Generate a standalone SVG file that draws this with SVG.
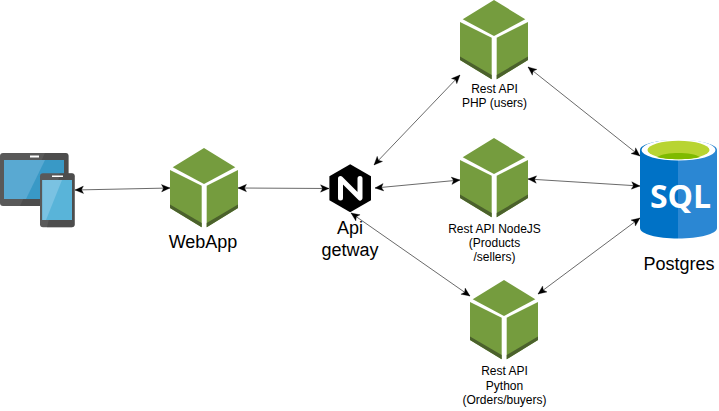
<svg xmlns="http://www.w3.org/2000/svg" xmlns:xlink="http://www.w3.org/1999/xlink" width="719" height="411" viewBox="0 0 719 411">
<style>
text{font-family:"Liberation Sans",Arial,sans-serif;fill:#000;text-anchor:middle}
.lg{font-size:18px}.sm{font-size:12px}
.c{fill:none;stroke:#444;stroke-width:.8;marker-start:url(#a);marker-end:url(#a)}
</style>
<defs>
<marker id="a" viewBox="0 0 10 10" refX="9.5" refY="5" markerWidth="10" markerHeight="10" markerUnits="userSpaceOnUse" orient="auto-start-reverse">
<path d="M1 1.3L9.5 5L1 8.7L3 5Z" fill="#000" stroke="#000" stroke-width=".3"/>
</marker>
<g id="cube">
<path fill="#759c3e" d="M34 0L2.7 19.3L34 36L65.3 19.3Z"/>
<path fill="#759c3e" d="M0 22L31.7 37.7V79.3L0 60Z"/>
<path fill="#4b612c" d="M0 56.5L31.7 75V79.3L0 60Z"/>
<path fill="#759c3e" d="M36.7 37.7L68 22V60L36.7 79.3Z"/>
<path fill="#4b612c" d="M68 56.5L36.7 75V79.3L68 60Z"/>
</g>
</defs>
<g id="connectors">
<path class="c" d="M75 190L170 188"/>
<path class="c" d="M238 188L329 188.5"/>
<path class="c" d="M374 165L460 75"/>
<path class="c" d="M375 188L460 180"/>
<path class="c" d="M351 213L470 296"/>
<path class="c" d="M528 67L640 156"/>
<path class="c" d="M528 179L640 186"/>
<path class="c" d="M538 294L640 218"/>
</g>
<g id="devices">
<rect x="0" y="153" width="68.5" height="53" rx="3" fill="#595959"/>
<path d="M45 153H65.5a3 3 0 0 1 3 3V206H20Z" fill="#3e3e3e" opacity=".45"/>
<rect x="4" y="160" width="60" height="39" fill="#3999c6"/>
<path d="M4 160H45L26 199H4Z" fill="#59a9d2"/>
<rect x="30" y="155.5" width="9" height="2" fill="#fff"/>
<rect x="40" y="173.3" width="34.7" height="54" rx="3" fill="#595959"/>
<path d="M60 173.3H71.7a3 3 0 0 1 3 3V224.3a3 3 0 0 1-3 3H47Z" fill="#3e3e3e" opacity=".45"/>
<rect x="42.3" y="180" width="29.7" height="40" fill="#59b4d9"/>
<path d="M42.3 180H62L46 220H42.3Z" fill="#7ac2e2"/>
<rect x="52" y="175.5" width="11" height="1.5" fill="#fff"/>
</g>
<g id="webapp">
<use xlink:href="#cube" href="#cube" x="170" y="148"/>
<text class="lg" x="203" y="248">WebApp</text>
</g>
<g id="gateway">
<path d="M350.2 164.3L371 176.2V200.2L350.2 212.2L329.4 200.2V176.2Z" fill="#000"/>
<path d="M340.5 198V178.5L360 198V178.5" fill="none" stroke="#fff" stroke-width="5" stroke-linejoin="round" stroke-linecap="round"/>
<text class="lg" x="350" y="234">Api</text>
<text class="lg" x="350" y="256">getway</text>
</g>
<g id="php">
<use xlink:href="#cube" href="#cube" x="460" y="0"/>
<text class="sm" x="494.5" y="93">Rest API</text>
<text class="sm" x="494.5" y="107">PHP (users)</text>
</g>
<g id="nodejs">
<use xlink:href="#cube" href="#cube" x="460" y="138"/>
<text class="sm" x="494.5" y="233">Rest API NodeJS</text>
<text class="sm" x="494.5" y="247">(Products</text>
<text class="sm" x="494.5" y="261">/sellers)</text>
</g>
<g id="python">
<use xlink:href="#cube" href="#cube" x="470" y="280"/>
<text class="sm" x="504.5" y="375">Rest API</text>
<text class="sm" x="504.5" y="390">Python</text>
<text class="sm" x="504.5" y="404">(Orders/buyers)</text>
</g>
<g id="postgres">
<path d="M640 150V228C640 234 657 238.5 678 238.5V140C657 140 640 144 640 150Z" fill="#0072c6"/>
<path d="M717 150V228C717 234 699 238.5 678 238.5V140C699 140 717 144 717 150Z" fill="#2b87d3"/>
<ellipse cx="678.5" cy="150" rx="37" ry="10.5" fill="#fff"/>
<ellipse cx="678.5" cy="150" rx="31" ry="9.3" fill="#b8d432"/>
<path d="M657 157C665 151.5 692 151.5 700 157C692 160 665 160 657 157Z" fill="#7fba00"/>
<text x="680.5" y="208" font-size="32" font-weight="700" style="font-family:'Open Sans','Liberation Sans',sans-serif;fill:#fff">SQL</text>
<text class="lg" x="679" y="270">Postgres</text>
</g>
</svg>
